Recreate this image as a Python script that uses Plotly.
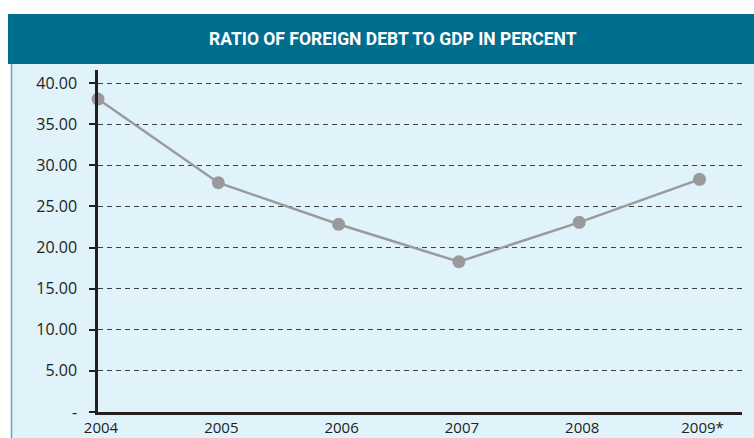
import plotly.graph_objects as go

years = ["2004", "2005", "2006", "2007", "2008", "2009*"]
ratio = [38.05, 27.88, 22.82, 18.27, 23.06, 28.29]
y_ticks = [0, 5, 10, 15, 20, 25, 30, 35, 40]
y_tick_text = ["-", "5.00", "10.00", "15.00", "20.00", "25.00", "30.00", "35.00", "40.00"]
title_text = "RATIO OF FOREIGN DEBT TO GDP IN PERCENT"

W, H = 754, 438
L, R, T, B = 98, 12, 70, 26
pw, ph = W - L - R, H - T - B

def px(p):
    return (p - L) / pw

def py(p):
    return (H - B - p) / ph

x_idx = list(range(len(years)))

fig = go.Figure()
fig.add_trace(go.Scatter(
    x=x_idx, y=ratio, mode="lines+markers",
    line=dict(color="#9a9a9c", width=2.5),
    marker=dict(color="#9a9a9c", size=13),
    cliponaxis=False, hoverinfo="skip", showlegend=False,
))

axis_font = dict(family="Liberation Sans Narrow, Open Sans, sans-serif", size=16, color="#231f20")
x_font = dict(family="Liberation Sans Narrow, Open Sans, sans-serif", size=15, color="#231f20")

fig.update_layout(
    width=W, height=H,
    margin=dict(l=L, r=R, t=T, b=B, pad=0),
    paper_bgcolor="white",
    plot_bgcolor="rgba(0,0,0,0)",
    xaxis=dict(
        range=[0, 5.353], tickmode="array", tickvals=x_idx, ticktext=years,
        showgrid=False, zeroline=False, showline=True, linecolor="#231f20", linewidth=2.5,
        ticks="", tickfont=x_font, ticklabelstandoff=0, ticklabelshift=3,
        automargin=False,
    ),
    yaxis=dict(
        range=[0, 41.58], tickmode="array", tickvals=y_ticks, ticktext=y_tick_text,
        showgrid=True, gridcolor="#404042", gridwidth=1, griddash="5px,4px",
        zeroline=False, showline=True, linecolor="#231f20", linewidth=2.5,
        ticks="outside", ticklen=6, tickwidth=2, tickcolor="#231f20",
        tickfont=axis_font, ticklabelstandoff=9, automargin=False,
    ),
    shapes=[
        dict(type="rect", xref="paper", yref="paper",
             x0=px(11), x1=px(760), y0=py(440), y1=py(64),
             fillcolor="#e0f2fa", line=dict(width=0), layer="below"),
        dict(type="line", xref="paper", yref="paper",
             x0=px(11.5), x1=px(11.5), y0=py(440), y1=py(64),
             line=dict(color="#5fa7c0", width=1.5), layer="below"),
        dict(type="rect", xref="paper", yref="paper",
             x0=px(8), x1=px(760), y0=py(64), y1=py(14),
             fillcolor="#006e8f", line=dict(width=0), layer="below"),
    ],
    annotations=[
        dict(text="<b>" + title_text + "</b>", xref="paper", yref="paper",
             x=px(393), y=py(39), xanchor="center", yanchor="middle", showarrow=False,
             font=dict(family="Roboto, Open Sans, sans-serif", size=17.5, color="white")),
    ],
)

fig.write_html("out.html", config={"displayModeBar": False},
               post_script="document.body.style.margin='0';")
